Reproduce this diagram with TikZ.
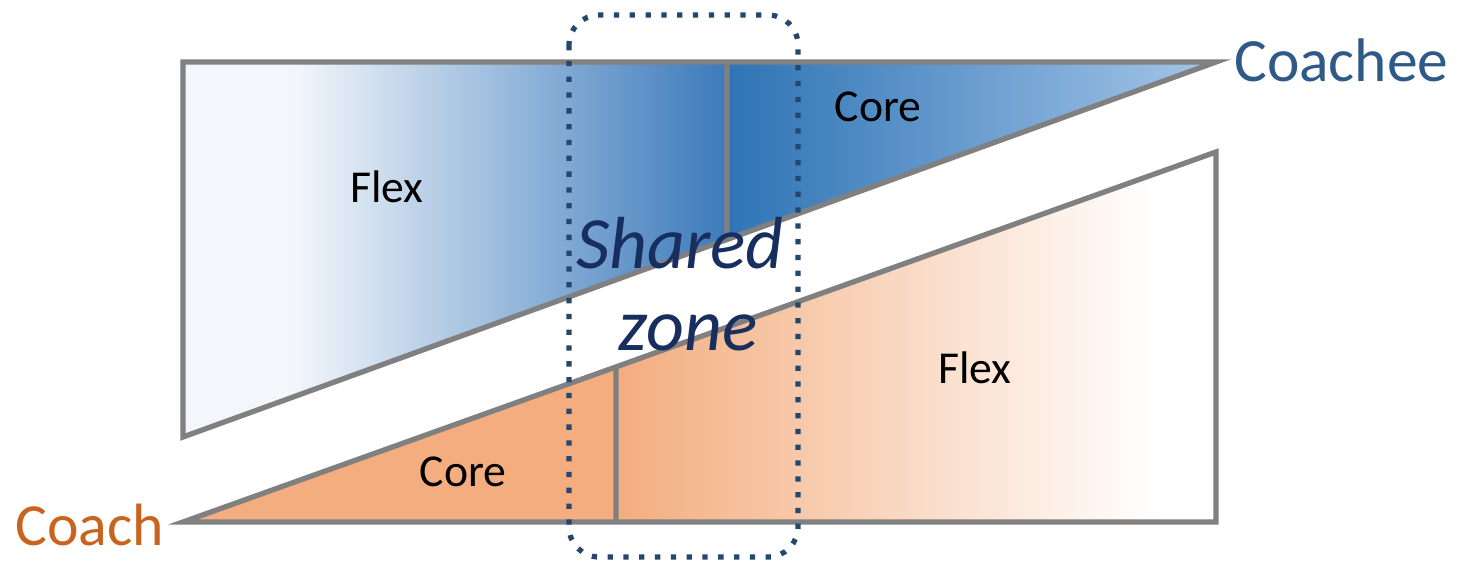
\documentclass[tikz,border=0pt]{standalone}
\usepackage{fontspec}
\setmainfont{Carlito}
\usetikzlibrary{calc}

\definecolor{rimgray}{HTML}{808080}
\definecolor{zonenavy}{HTML}{24466F}
\definecolor{sharednavy}{HTML}{172E5E}
\definecolor{coacheeblue}{HTML}{2F5A87}
\definecolor{coachorange}{HTML}{C8641F}
\definecolor{bluepale}{HTML}{F3F7FB}
\definecolor{bluedeep}{HTML}{3C7ABB}
\definecolor{bluecore}{HTML}{2E74B5}
\definecolor{bluelight}{HTML}{A6C6E8}
\definecolor{orangecore}{HTML}{F3AD7E}

\pgfdeclarehorizontalshading{coacheeflex}{100bp}{color(0bp)=(bluepale); color(35bp)=(bluepale); color(75bp)=(bluedeep); color(100bp)=(bluedeep)}
\pgfdeclarehorizontalshading{coacheecore}{100bp}{color(0bp)=(bluecore); color(25bp)=(bluecore); color(75bp)=(bluelight); color(100bp)=(bluelight)}
\pgfdeclarehorizontalshading{coachflex}{100bp}{color(0bp)=(orangecore); color(25bp)=(orangecore); color(70bp)=(white); color(100bp)=(white)}

\begin{document}
\begin{tikzpicture}[x=0.02cm,y=-0.02cm,
    rim/.style={draw=rimgray,line width=3pt},
    zone/.style={draw=zonenavy,line width=3pt,dash pattern=on 3pt off 6pt,rounded corners=0.6cm},
    partname/.style={font=\fontsize{26}{30}\selectfont}]
    \useasboundingbox(0,0)rectangle(1466,563);

    % Coachee
    \coordinate(A)at(183,62);
    \coordinate(B)at(1216,62);
    \coordinate(C)at(183,437);
    \coordinate(P)at(727,62);
    \coordinate(Q)at($(C)!{(727-183)/1033}!(B)$);

    % Coach
    \coordinate(D)at(183,522);
    \coordinate(E)at(1216,522);
    \coordinate(F)at(1216,152);
    \coordinate(R)at(616,522);
    \coordinate(S)at($(D)!{(616-183)/1033}!(F)$);

    \shade[shading=coacheeflex](A)--(P)--(Q)--(C)--cycle;
    \shade[shading=coacheecore](P)--(B)--(Q)--cycle;
    \fill[orangecore](D)--(R)--(S)--cycle;
    \shade[shading=coachflex](R)--(E)--(F)--(S)--cycle;

    \draw[rim](A)--(B)--(C)--cycle;
    \draw[rim](P)--(Q);
    \draw[rim](D)--(E)--(F)--cycle;
    \draw[rim](R)--(S);

    \node[partname](flextop)at(387,187){Flex};
    \node[partname](coretop)at(878,107){Core};
    \node[partname](flexbot)at(975,368){Flex};
    \node[partname](corebot)at(463,472){Core};

    \node[anchor=west,text=coacheeblue,font=\fontsize{35}{40}\selectfont](coachee)at(1228,60){Coachee};
    \node[anchor=east,text=coachorange,font=\fontsize{34}{40}\selectfont](coach)at(170,525){Coach};

    \draw[zone](569,15)rectangle(798,557);

    \node[text=sharednavy,font=\fontsize{42}{48}\selectfont\itshape](shared)at(680,243){Shared};
    \node[text=sharednavy,font=\fontsize{42}{48}\selectfont\itshape](zonetext)at(688,333){zone};
\end{tikzpicture}
\end{document}
